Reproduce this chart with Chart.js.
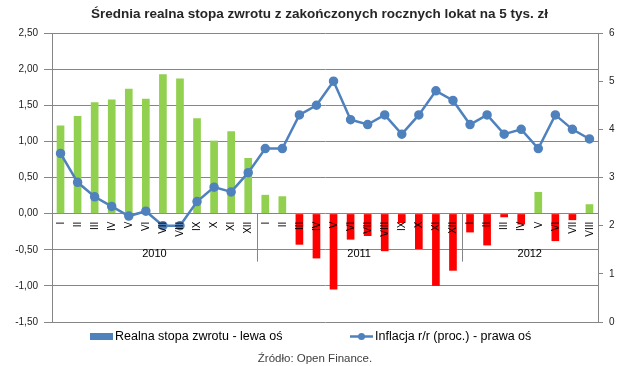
<!DOCTYPE html>
<html><head><meta charset="utf-8">
<script src="https://cdn.jsdelivr.net/npm/chart.js@4/dist/chart.umd.min.js"></script>
<style>html,body{margin:0;padding:0;background:#fff;}#wrap{width:639px;height:366px;}</style>
</head><body><div id="wrap"><canvas id="c" width="639" height="366"></canvas></div>
<script>
const categories = ['I','II','III','IV','V','VI','VII','VIII','IX','X','XI','XII',
                    'I','II','III','IV','V','VI','VII','VIII','IX','X','XI','XII',
                    'I','II','III','IV','V','VI','VII','VIII'];
const years = ['2010','2011','2012'];
const monthsPerYear = [12,12,8];
const realReturn = [1.22,1.35,1.54,1.58,1.73,1.59,1.93,1.87,1.32,1.01,1.14,0.77,
                    0.26,0.24,-0.43,-0.62,-1.05,-0.36,-0.31,-0.52,-0.13,-0.49,-1.00,-0.79,
                    -0.26,-0.44,-0.05,-0.15,0.30,-0.38,-0.09,0.13];
const inflation = [3.5,2.9,2.6,2.4,2.2,2.3,2.0,2.0,2.5,2.8,2.7,3.1,
                   3.6,3.6,4.3,4.5,5.0,4.2,4.1,4.3,3.9,4.3,4.8,4.6,
                   4.1,4.3,3.9,4.0,3.6,4.3,4.0,3.8];
const seriesNames = ['Realna stopa zwrotu - lewa oś','Inflacja r/r (proc.) - prawa oś'];
const titleText = 'Średnia realna stopa zwrotu z zakończonych rocznych lokat na 5 tys. zł';
const sourceText = 'Źródło: Open Finance.';

const GREEN = '#92D050', RED = '#FF0000', BLUE = '#4F81BD', GRID = '#868686';
const FONT = '"Liberation Sans", Arial, sans-serif';

const decor = {
  id: 'decor',
  afterDatasetsDraw(chart) {
    const {ctx, chartArea: a, scales: {x, y}} = chart;
    const y0 = y.getPixelForValue(0);
    const w = (a.right - a.left) / categories.length;
    ctx.save();
    ctx.fillStyle = '#000';
    ctx.font = '10px ' + FONT;
    ctx.textAlign = 'right';
    ctx.textBaseline = 'middle';
    categories.forEach((c, i) => {
      const px = x.getPixelForValue(i);
      ctx.save();
      ctx.translate(px + 0.5, y0 + 8);
      ctx.rotate(-Math.PI / 2);
      ctx.fillText(c, 0, 0);
      ctx.restore();
    });
    ctx.strokeStyle = GRID;
    ctx.lineWidth = 1;
    ctx.textAlign = 'center';
    ctx.font = '11px ' + FONT;
    let start = 0;
    monthsPerYear.forEach((n, k) => {
      const xl = a.left + start * w, xr = a.left + (start + n) * w;
      if (start > 0) {
        const sx = Math.round(xl) + 0.5;
        ctx.beginPath(); ctx.moveTo(sx, y0); ctx.lineTo(sx, y0 + 48); ctx.stroke();
      }
      ctx.fillText(years[k], (xl + xr) / 2, y0 + 40);
      start += n;
    });
    ctx.restore();
  },
  afterDraw(chart) {
    const ctx = chart.ctx;
    ctx.save();
    ctx.textBaseline = 'middle';
    ctx.textAlign = 'left';
    ctx.font = '12.5px ' + FONT;
    ctx.fillStyle = BLUE;
    ctx.fillRect(90, 333, 23, 7);
    ctx.fillStyle = '#000';
    ctx.fillText(seriesNames[0], 115, 337);
    ctx.strokeStyle = BLUE; ctx.lineWidth = 2.5;
    ctx.beginPath(); ctx.moveTo(350, 336.5); ctx.lineTo(373, 336.5); ctx.stroke();
    ctx.fillStyle = BLUE;
    ctx.beginPath(); ctx.arc(361.5, 336.5, 3.5, 0, Math.PI * 2); ctx.fill();
    ctx.fillStyle = '#000';
    ctx.fillText(seriesNames[1], 375, 337);
    ctx.textAlign = 'center';
    ctx.font = '11.5px ' + FONT;
    ctx.fillStyle = '#404040';
    ctx.fillText(sourceText, 315, 359);
    ctx.restore();
  }
};

new Chart(document.getElementById('c'), {
  data: {
    labels: categories,
    datasets: [
      {
        type: 'line', label: seriesNames[1], data: inflation, yAxisID: 'y1', order: 0,
        borderColor: BLUE, backgroundColor: BLUE, borderWidth: 2.5,
        pointRadius: 3.5, pointBackgroundColor: BLUE, pointBorderColor: BLUE, tension: 0
      },
      {
        type: 'bar', label: seriesNames[0], data: realReturn, yAxisID: 'y', order: 1,
        backgroundColor: realReturn.map(v => v >= 0 ? GREEN : RED),
        barPercentage: 0.45, categoryPercentage: 1
      }
    ]
  },
  options: {
    responsive: false, animation: false, devicePixelRatio: 1,
    layout: {padding: {left: 0, right: 0, top: 0, bottom: 44}},
    plugins: {
      legend: {display: false},
      tooltip: {enabled: false},
      title: {
        display: true, text: titleText, color: '#262626',
        font: {family: FONT, size: 13.5, weight: 'bold'},
        padding: {top: 6, bottom: 10.8}
      }
    },
    scales: {
      x: {display: false, offset: true},
      y: {
        position: 'left', min: -1.5, max: 2.5,
        afterFit(s) { s.width = 52; },
        ticks: {stepSize: 0.5, padding: 6, color: '#222', font: {family: FONT, size: 10},
                callback: v => v.toFixed(2).replace('.', ',')},
        grid: {color: GRID, tickLength: 8},
        border: {color: GRID}
      },
      y1: {
        position: 'right', min: 0, max: 6,
        afterFit(s) { s.width = 41; },
        ticks: {stepSize: 1, padding: 6, color: '#222', font: {family: FONT, size: 10}},
        grid: {drawOnChartArea: false, color: GRID, tickLength: 5},
        border: {color: GRID}
      }
    }
  },
  plugins: [decor]
});
</script>
</body></html>
